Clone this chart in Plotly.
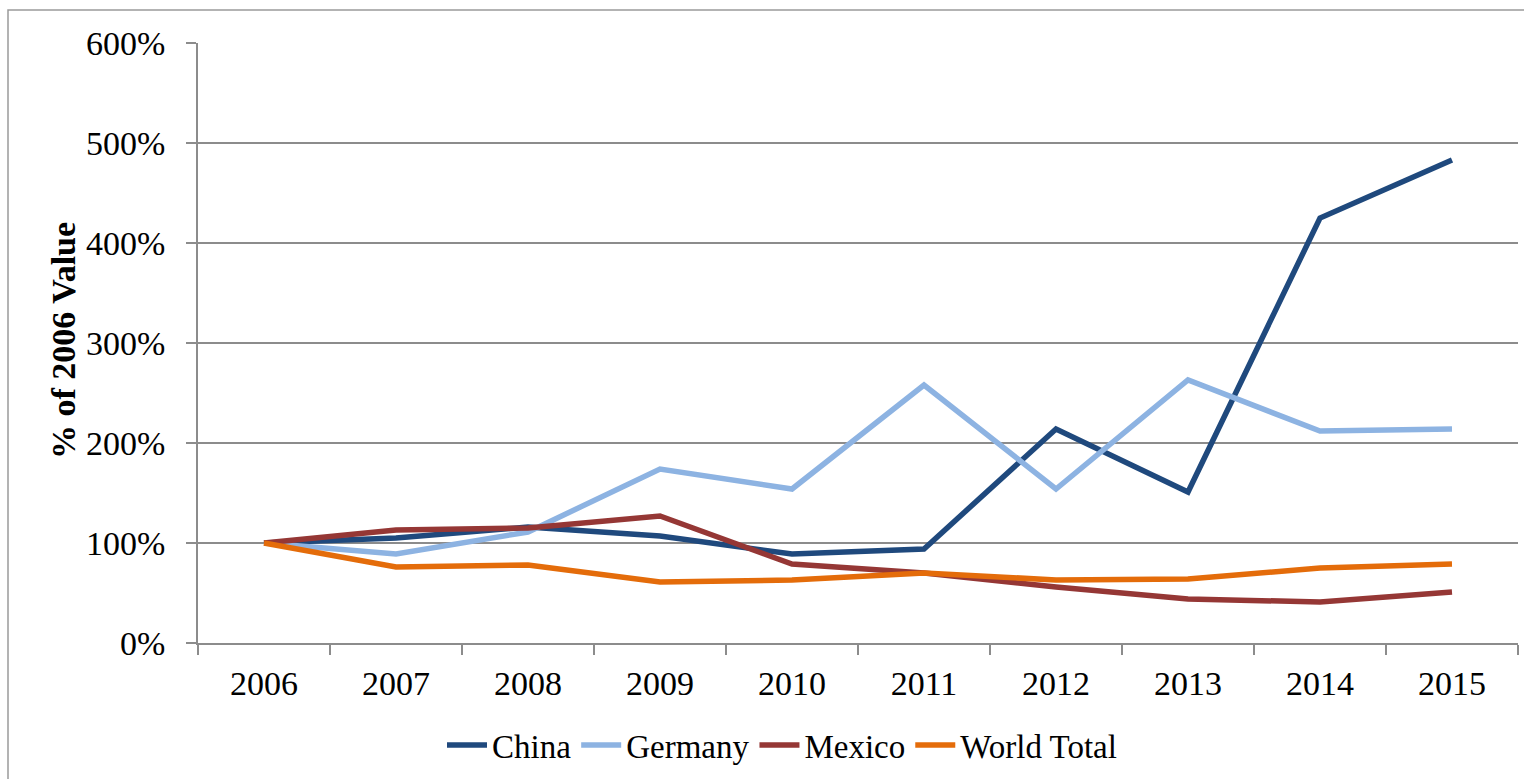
import plotly.graph_objects as go

years = ["2006", "2007", "2008", "2009", "2010", "2011", "2012", "2013", "2014", "2015"]
china = [100, 105, 116, 107, 89, 94, 214, 151, 425, 483]
germany = [100, 89, 111, 174, 154, 258, 154, 263, 212, 214]
mexico = [100, 113, 115, 127, 79, 70, 56, 44, 41, 51]
world = [100, 76, 78, 61, 63, 70, 63, 64, 75, 79]
y_ticks = [0, 100, 200, 300, 400, 500, 600]
y_tick_labels = ["0%", "100%", "200%", "300%", "400%", "500%", "600%"]

series = [
    ("China", china, "#1F497D"),
    ("Germany", germany, "#8DB3E2"),
    ("Mexico", mexico, "#953735"),
    ("World Total", world, "#E46C0A"),
]

FONT = "Liberation Serif, Times New Roman, serif"
GRID = "#8C8C8C"

fig = go.Figure()
for name, vals, col in series:
    fig.add_trace(go.Scatter(
        x=years, y=vals, name=name, mode="lines",
        line=dict(color=col, width=5.5),
    ))

W, H = 1524, 779
L, R, T, B = 198, 6, 43, 136
pw, ph = W - L - R, H - T - B

def px_x(p):
    return (p - L) / pw

def px_y(p):
    return (H - B - p) / ph

fig.update_layout(
    width=W, height=H,
    margin=dict(l=L, r=R, t=T, b=B),
    paper_bgcolor="white", plot_bgcolor="white",
    font=dict(family=FONT, color="black", size=33),
    showlegend=True,
    legend=dict(
        orientation="h", x=px_x(782), y=px_y(745),
        xanchor="center", yanchor="middle",
        font=dict(family=FONT, size=33),
        itemwidth=40, tracegroupgap=0,
        bgcolor="rgba(0,0,0,0)",
    ),
    xaxis=dict(
        type="category", range=[-0.5, 9.5],
        showgrid=False, showline=True, linecolor=GRID, linewidth=1.5,
        ticks="outside", tickson="boundaries", ticklen=10, tickcolor=GRID, tickwidth=1.5,
        tickfont=dict(family=FONT, size=34),
        ticklabelstandoff=9,
    ),
    yaxis=dict(
        range=[0, 600], tickvals=y_ticks, ticktext=y_tick_labels,
        showgrid=True, gridcolor=GRID, gridwidth=1.5,
        zeroline=False,
        showline=True, linecolor=GRID, linewidth=1.5,
        ticks="outside", ticklen=10, tickcolor=GRID, tickwidth=1.5,
        tickfont=dict(family=FONT, size=34),
        ticklabelstandoff=14,
    ),
    annotations=[dict(
        text="<b>% of 2006 Value</b>", textangle=-90,
        xref="paper", yref="paper", x=px_x(63), y=px_y(341),
        xanchor="center", yanchor="middle", showarrow=False,
        font=dict(family=FONT, size=34, color="black"),
    )],
    shapes=[dict(
        type="rect", xref="paper", yref="paper",
        x0=px_x(8), x1=px_x(1535), y0=px_y(795), y1=px_y(10),
        line=dict(color="#9A9A9A", width=1.5), layer="below",
    )],
)

fig.write_html(
    "out.html",
    config={"displayModeBar": False},
    post_script="document.body.style.margin='0';document.body.style.overflow='hidden';",
)
